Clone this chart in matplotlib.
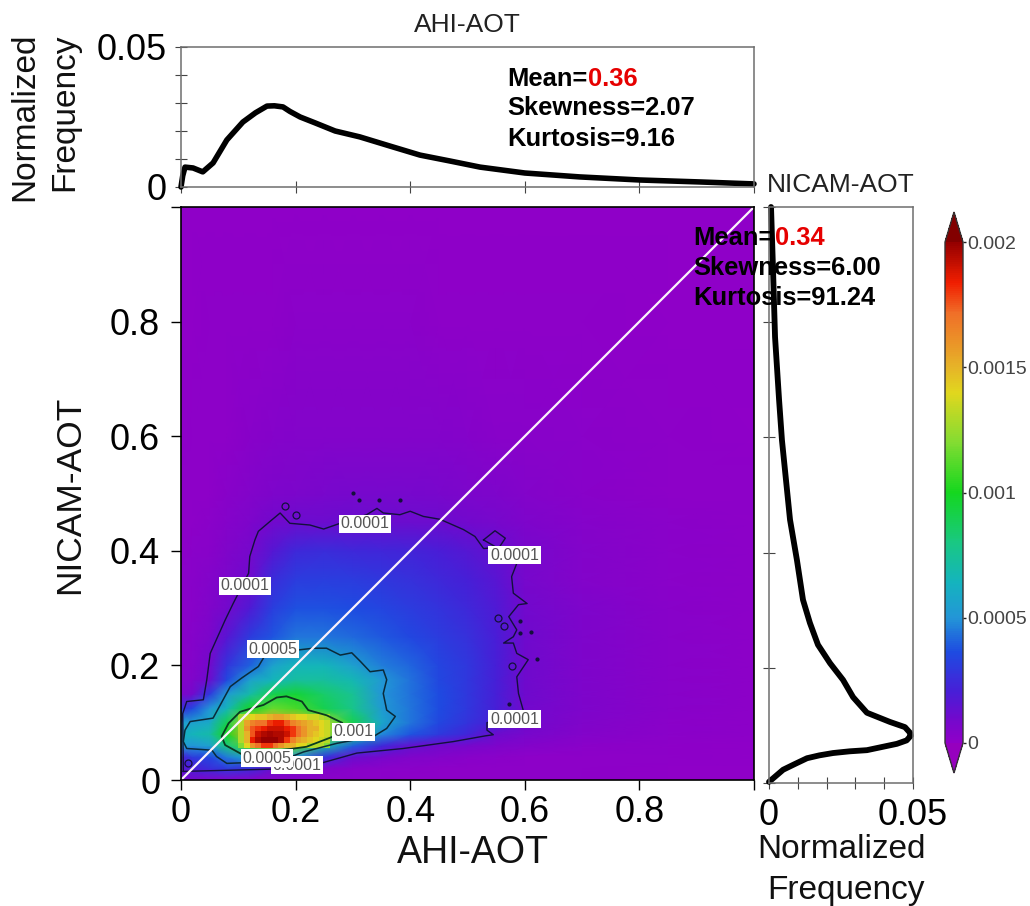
import matplotlib
matplotlib.use("Agg")
import matplotlib.pyplot as plt
import numpy as np
from matplotlib.colors import LinearSegmentedColormap

plt.rcParams['font.family'] = ['Liberation Sans', 'DejaVu Sans']

W, H = 1030, 906

# heat table in units of 1e-4, rows bottom to top
x_nodes = [0, .02, .05, .08, .12, .16, .2, .25, .3, .35, .4, .45, .5, .55, .6, .7, .85, 1]
y_nodes = [0, .02, .04, .06, .08, .1, .125, .15, .175, .2, .25, .3, .35, .4, .45, .5, .6, .8, 1]
heat = [
    [.8, .8, .6, .5, .4, .3, .3, .2, .2, .2, .1, .1, .1, .1, .1, .1, .05, 0],
    [1.5, 2, 2.5, 3, 2.5, 1.2, .8, .5, .3, .2, .2, .15, .1, .1, .1, .1, .05, 0],
    [2, 3, 3.5, 4.5, 6, 6, 5, 2.8, 1.2, .8, .5, .4, .3, .2, .15, .1, .1, .05],
    [5.5, 5, 5.5, 8, 11, 13, 11.5, 7, 4, 2.4, 1.4, 1, .8, .6, .4, .2, .1, .05],
    [6, 6.5, 7, 10, 15, 17, 16, 13, 8.5, 4.8, 3.8, 3, 2.3, 1.1, .8, .4, .2, .1],
    [5.5, 5.5, 6, 9, 14, 16, 15, 13, 9, 5.8, 4.4, 3.5, 2.8, 2, 1, .5, .2, .1],
    [2.5, 3.5, 5, 6.5, 9.8, 11.5, 11, 9, 7.8, 5.3, 4.4, 3.6, 2.9, 2.1, 1, .55, .25, .1],
    [.7, .9, 3, 5.2, 7, 9, 9.5, 8.5, 7.5, 5, 4.3, 3.6, 2.9, 2.1, 1.05, .55, .25, .1],
    [.4, .5, 1.1, 3.5, 5.5, 6.5, 7.2, 7.2, 6.7, 5.2, 4.3, 3.5, 2.9, 2.1, 1.05, .55, .25, .1],
    [.3, .4, .9, 2.8, 4, 5.6, 6.5, 6.5, 5.5, 4.6, 4.1, 3.4, 2.9, 2.1, 1.05, .55, .25, .1],
    [.25, .35, .7, 1.6, 3, 3.8, 4.4, 4.4, 4.2, 3.9, 3.5, 3.1, 2.7, 2, 1.05, .55, .25, .1],
    [.2, .3, .5, .9, 1.8, 3.2, 3.7, 3.7, 3.6, 3.4, 3.1, 2.8, 2.4, 1.8, .95, .55, .25, .1],
    [.2, .25, .4, .7, 1.05, 2.5, 3.1, 3.2, 3.1, 2.9, 2.7, 2.4, 2.1, 1.6, .8, .45, .2, .1],
    [.15, .2, .3, .5, .8, 1.7, 2.4, 2.5, 2.4, 2.3, 2.2, 2, 1.7, 1.3, .8, .4, .2, .1],
    [.1, .15, .2, .35, .6, .95, 1.1, 1.15, 1.2, 1.2, 1.15, 1.1, 1, .8, .6, .35, .2, .1],
    [.1, .1, .15, .25, .4, .6, .7, .75, .85, .85, .8, .75, .65, .55, .45, .3, .15, .1],
    [.05, .1, .1, .15, .25, .35, .4, .45, .45, .45, .45, .4, .35, .3, .3, .2, .1, .05],
    [.05, .05, .1, .1, .15, .15, .2, .2, .2, .2, .2, .15, .15, .15, .1, .1, .05, .05],
    [.02, .02, .02, .02, .02, .02, .02, .02, .02, .02, .02, .02, .02, .02, .02, .02, .02, .02],
]

# blocky hot core, 0.01 cells, rows bottom to top
core_x = np.arange(.10, .265, .01)
core_y = np.arange(.055, .12, .01)
core = [
    [12, 14, 16, 17, 18, 18, 17, 16, 15, 15, 14, 14, 13, 13, 13, 12],
    [13, 15, 18.5, 19.5, 20, 20, 20, 19.5, 18, 16.5, 15.5, 15, 14.5, 14, 13.5, 13],
    [13, 15, 17.5, 19, 19.5, 19.7, 19.5, 19.5, 19, 18, 17, 16, 15, 14.5, 14, 13.5],
    [13, 16, 17.5, 18, 18.5, 19, 19, 19, 18.5, 18, 17, 16, 15, 15, 14, 13.5],
    [13, 15.5, 16.5, 17, 17, 18, 18.5, 18.5, 17.5, 16.5, 16, 15.5, 15, 14.5, 14, 13.5],
    [12.5, 13.5, 14, 14.5, 14.5, 15, 15.5, 15.5, 15, 14.5, 14, 14, 13.5, 13.5, 13, 12.5],
]

# contours
c1_x = [.004, .161, .243, .307, .388, .475, .531, .545, .534, .534, .598, .589, .586, .606, .586, .580, .563, .580, .586, .572, .589, .604, .580, .577, .586, .574, .528, .513, .493, .452, .423, .400, .382, .353, .342, .324, .295, .249, .225, .190, .173, .155, .135, .129, .120, .118, .091, .077, .051, .045, .039, .010, .003, .004]
c1_y = [.015, .019, .029, .047, .055, .067, .077, .079, .087, .100, .119, .151, .180, .210, .221, .239, .239, .250, .262, .285, .306, .308, .326, .355, .378, .407, .404, .425, .437, .455, .460, .469, .463, .466, .474, .463, .454, .438, .445, .448, .466, .451, .434, .419, .390, .361, .308, .279, .221, .175, .140, .137, .116, .015]
loop_x = [.528, .548, .566, .554, .528]
loop_y = [.419, .435, .422, .404, .419]
c5_x = [.161, .205, .231, .254, .278, .298, .313, .330, .353, .359, .353, .359, .374, .359, .336, .272, .214, .193, .106, .080, .062, .054, .010, .004, .007, .016, .056, .086, .106, .135, .147, .161]
c5_y = [.228, .227, .230, .230, .218, .222, .207, .189, .192, .175, .151, .122, .111, .090, .076, .064, .049, .041, .030, .029, .041, .052, .055, .067, .087, .102, .108, .163, .178, .198, .218, .228]
c10_x = [.281, .254, .222, .211, .184, .167, .144, .123, .103, .083, .071, .077, .106, .190, .219, .266, .281]
c10_y = [.100, .113, .122, .137, .146, .144, .131, .125, .119, .099, .076, .061, .045, .054, .058, .076, .084]
ring_x = [.182, .200, .553, .563, .578, .013]
ring_y = [.478, .462, .282, .269, .199, .029]
dot_x = [.301, .382, .591, .592, .611, .621, .573, .346, .311]
dot_y = [.501, .489, .278, .257, .259, .211, .133, .488, .488]

label_text = ['0.0001', '0.0001', '0.0001', '0.0001', '0.0001', '0.0005', '0.0005', '0.001']
label_x = [.321, .582, .112, .582, .202, .161, .150, .301]
label_y = [.447, .392, .339, .106, .026, .228, .038, .084]

# marginal curves
top_x = [0, .003, .007, .021, .038, .056, .080, .108, .130, .150, .163, .178, .190, .208, .234, .269, .312, .365, .417, .469, .522, .600, .696, .801, .906, 1]
top_y = [0, .0040, .0071, .0068, .0054, .0086, .0168, .0232, .0265, .0289, .0290, .0286, .0270, .0250, .0229, .0200, .0179, .0146, .0114, .0093, .0071, .0050, .0036, .0025, .0018, .0011]
right_x = [0, .0049, .0090, .0132, .0175, .0222, .0280, .0340, .0444, .0478, .0492, .0490, .0472, .0420, .0340, .0292, .0257, .0212, .0170, .0142, .0118, .0097, .0073, .0059, .0045, .0035, .0021, .0014, .0007]
right_y = [.002, .023, .033, .043, .048, .052, .055, .057, .068, .074, .082, .087, .097, .106, .122, .149, .179, .208, .240, .278, .318, .387, .457, .526, .595, .665, .774, .891, 1]

main_ticks = [0, .2, .4, .6, .8, 1]
main_ticklabels = ['0', '0.2', '0.4', '0.6', '0.8', '']
cbar_ticks = [0, .0005, .001, .0015, .002]
cbar_ticklabels = ['0', '0.0005', '0.001', '0.0015', '0.002']

cmap_nodes = [
    (0, (143, 0, 200)), (.05, (112, 10, 205)), (.10, (72, 30, 215)), (.18, (30, 75, 225)),
    (.25, (35, 150, 215)), (.32, (20, 180, 190)), (.40, (25, 200, 130)), (.50, (20, 215, 30)),
    (.60, (130, 220, 50)), (.70, (225, 215, 30)), (.75, (230, 180, 40)), (.86, (240, 110, 40)),
    (.92, (240, 30, 0)), (1, (150, 0, 0)),
]
cmap = LinearSegmentedColormap.from_list(
    'aot', [(p, tuple(v / 255 for v in c)) for p, c in cmap_nodes], N=256)
cmap.set_under((150 / 255, 0, 190 / 255))
cmap.set_over((130 / 255, 0, 0))


def box(x0, y0, x1, y1):
    # pixel box of the reference -> figure fraction
    return [x0 / W, 1 - y1 / H, (x1 - x0) / W, (y1 - y0) / H]


def put(px, py, s, **kw):
    kw.setdefault('ha', 'center')
    kw.setdefault('va', 'center')
    fig.text(px / W, 1 - py / H, s, **kw)


fig = plt.figure(figsize=(W / 100, H / 100), dpi=100)

# main panel
ax = fig.add_axes(box(181, 207, 754, 780))
mesh = ax.pcolormesh(x_nodes, y_nodes, np.array(heat) * 1e-4, cmap=cmap, vmin=0, vmax=.002,
                     shading='gouraud')
ax.pcolormesh(core_x, core_y, np.array(core) * 1e-4, cmap=cmap, vmin=0, vmax=.002, shading='flat')
ct = '#14103c'
ax.plot(c1_x, c1_y, color=ct, lw=1)
ax.plot(loop_x, loop_y, color=ct, lw=1)
ax.plot(c5_x, c5_y, color='#0a2a3a', lw=1.1)
ax.plot(c10_x, c10_y, color='#0a3a20', lw=1.3)
ax.plot(ring_x, ring_y, ls='none', marker='o', ms=5, mfc='none', mec=ct, mew=.9)
ax.plot(dot_x, dot_y, ls='none', marker='o', ms=2, color=ct)
ax.plot([0, 1], [0, 1], color='#fbf2fb', lw=1.6)
for s, lx, ly in zip(label_text, label_x, label_y):
    ax.text(lx, ly, s, fontsize=11.5, color='#555555', ha='center', va='center',
            bbox=dict(facecolor='white', edgecolor='none', pad=1.2))
ax.set_xlim(0, 1)
ax.set_ylim(0, 1)
ax.set_xticks(main_ticks, main_ticklabels)
ax.set_yticks(main_ticks, main_ticklabels)
ax.tick_params(length=7, width=1, labelsize=26)
ax.tick_params(axis='x', pad=4)
ax.tick_params(axis='y', pad=8)
for sp in ax.spines.values():
    sp.set_linewidth(1.2)

# top marginal
ax_top = fig.add_axes(box(181, 47, 754, 187))
ax_top.plot(top_x, top_y, color='black', lw=4, solid_capstyle='round', clip_on=False)
ax_top.set_xlim(0, 1)
ax_top.set_ylim(0, .05)
ax_top.set_xticks(main_ticks, [''] * 6)
ax_top.set_yticks([0, .01, .02, .03, .04, .05], ['0', '', '', '', '', '0.05'])
ax_top.tick_params(direction='inout', length=9, width=.8, color='#444444', labelsize=26, pad=6)
ax_top.tick_params(axis='x', length=8)

# right marginal
ax_r = fig.add_axes(box(769, 207, 913, 783))
ax_r.plot(right_x, right_y, color='black', lw=4.2, solid_capstyle='round', clip_on=False)
ax_r.set_xlim(0, .05)
ax_r.set_ylim(0, 1)
ax_r.set_xticks([0, .01, .02, .03, .04, .05], ['0', '', '', '', '', '0.05'])
ax_r.set_yticks(main_ticks, [''] * 6)
ax_r.tick_params(direction='inout', length=9, width=.8, color='#444444', labelsize=26, pad=6)

for a in (ax_top, ax_r):
    for sp in a.spines.values():
        sp.set_color('#6e6e6e')
        sp.set_linewidth(1.1)

# colorbar, box includes the two pointed ends
cax = fig.add_axes(box(945, 212, 963, 773))
cb = fig.colorbar(mesh, cax=cax, extend='both', extendfrac=.06, ticks=cbar_ticks)
cb.ax.set_yticklabels(cbar_ticklabels)
cb.ax.tick_params(length=2, width=1, labelsize=14, labelcolor='#444444', color='#222222', pad=1)
cb.outline.set_edgecolor('#333333')
cb.outline.set_linewidth(1)

# titles and labels
put(467, 25, 'AHI-AOT', fontsize=19, color='#222222')
put(841, 185, 'NICAM-AOT', fontsize=19, color='#222222')
put(473, 853, 'AHI-AOT', fontsize=27, color='#111111')
put(70, 495, 'NICAM-AOT', fontsize=25.5, rotation=90, color='#111111')
put(25, 117, 'Normalized', fontsize=24, rotation=90, color='#111111')
put(65, 112, 'Frequency', fontsize=24, rotation=90, color='#111111')
put(842, 850, 'Normalized', fontsize=24, color='#111111')
put(846, 890, 'Frequency', fontsize=24, color='#111111')

# stats
put(507, 79, 'Mean=', fontsize=18.4, fontweight='bold', ha='left')
put(588, 79, '0.36', fontsize=18.4, fontweight='bold', ha='left', color='#e60000')
put(507, 108, 'Skewness=2.07', fontsize=18.4, fontweight='bold', ha='left')
put(507, 139, 'Kurtosis=9.16', fontsize=18.4, fontweight='bold', ha='left')
put(693, 238, 'Mean=', fontsize=18.4, fontweight='bold', ha='left')
put(775, 238, '0.34', fontsize=18.4, fontweight='bold', ha='left', color='#e60000')
put(693, 268, 'Skewness=6.00', fontsize=18.4, fontweight='bold', ha='left')
put(693, 298, 'Kurtosis=91.24', fontsize=18.4, fontweight='bold', ha='left')

fig.savefig('out.png', dpi=100, facecolor='white')
